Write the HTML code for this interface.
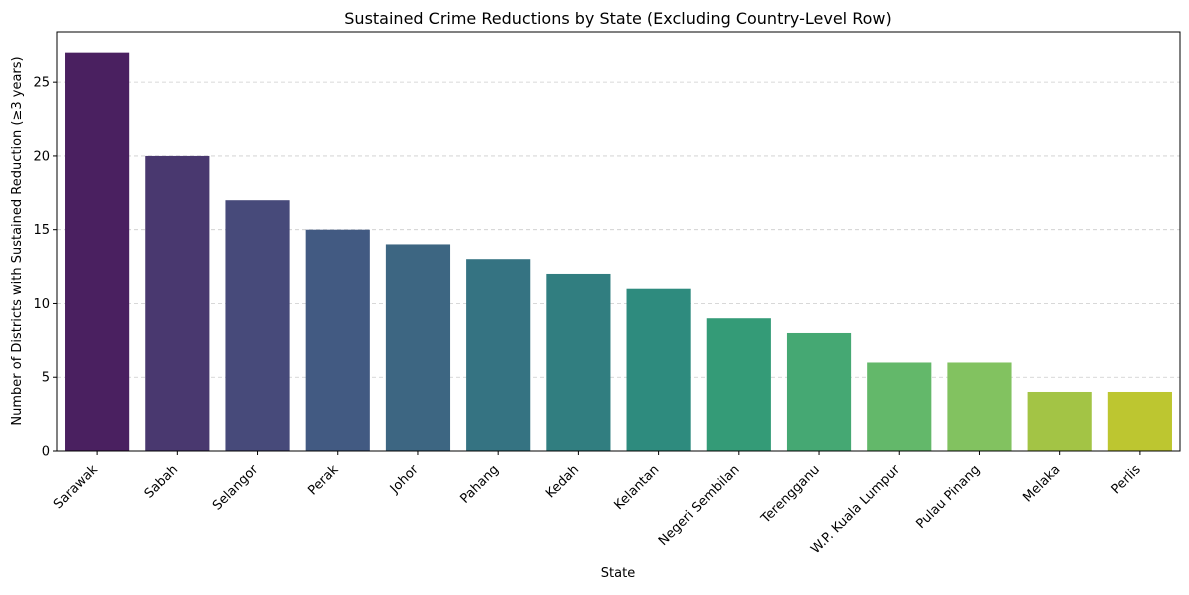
<!DOCTYPE html>
<html><head><meta charset="utf-8"><style>
body{margin:0;background:#fff}
svg text{font-family:"DejaVu Sans","Liberation Sans",sans-serif;fill:#000}
</style></head><body>
<svg id="chart" width="1189" height="590" xmlns="http://www.w3.org/2000/svg">
<text x="618" y="24" font-size="16" text-anchor="middle">Sustained Crime Reductions by State (Excluding Country-Level Row)</text>
<text transform="translate(21,241) rotate(-90)" font-size="13" text-anchor="middle">Number of Districts with Sustained Reduction (≥3 years)</text>
<text x="618" y="577" font-size="13" text-anchor="middle">State</text>
<g id="grid"></g><g id="bars"></g><g id="axes"></g>
</svg>
<script>
const categories=["Sarawak","Sabah","Selangor","Perak","Johor","Pahang","Kedah","Kelantan","Negeri Sembilan","Terengganu","W.P. Kuala Lumpur","Pulau Pinang","Melaka","Perlis"];
const values=[27,20,17,15,14,13,12,11,9,8,6,6,4,4];
const yTicks=[0,5,10,15,20,25];
const colors=["#4a2060","#49386f","#474a7a","#425a82","#3d6682","#357382","#317e80","#2e8b7e","#349b77","#45a873","#63b86a","#82c260","#a3c445","#bdc630"];
const L=57,R=1180,T=32,B=451,ymax=28.4;
const x=i=>L+(i+0.5)*(R-L)/categories.length;
const y=v=>B-v/ymax*(B-T);
const bw=0.8*(R-L)/categories.length;
const NS="http://www.w3.org/2000/svg";
function mk(t,a,p){const e=document.createElementNS(NS,t);for(const k in a)e.setAttribute(k,a[k]);p.appendChild(e);return e;}
const g=document.getElementById('grid'),bg=document.getElementById('bars'),ax=document.getElementById('axes');
yTicks.forEach(t=>{
 if(t>0){const l=mk('line',{x1:L,x2:R,y1:y(t),y2:y(t),stroke:'#ccc','stroke-dasharray':'4,3','stroke-width':0.8},g);
 
 }
 const tk=mk('line',{x1:L-4,x2:L,y1:y(t),y2:y(t),stroke:'#000'},ax);
 
 
 const tx=mk('text',{x:L-7,y:y(t)+4.5,'font-size':13,'text-anchor':'end'},ax);tx.textContent=t;
 
 
});
categories.forEach((c,i)=>{
 const r=mk('rect',{x:x(i)-bw/2,y:y(values[i]),width:bw,height:B-y(values[i]),fill:colors[i]},bg);
 
 
 const tk=mk('line',{x1:x(i),x2:x(i),y1:B,y2:B+4,stroke:'#000'},ax);
 
 
 const tx=mk('text',{transform:`translate(${x(i)+1},${B+19}) rotate(-45)`,'font-size':13,'text-anchor':'end'},ax);tx.textContent=c;
 
 
});
const fr=mk('rect',{x:L,y:T,width:R-L,height:B-T,fill:'none',stroke:'#000','stroke-width':1},ax);


</script>
</body></html>
